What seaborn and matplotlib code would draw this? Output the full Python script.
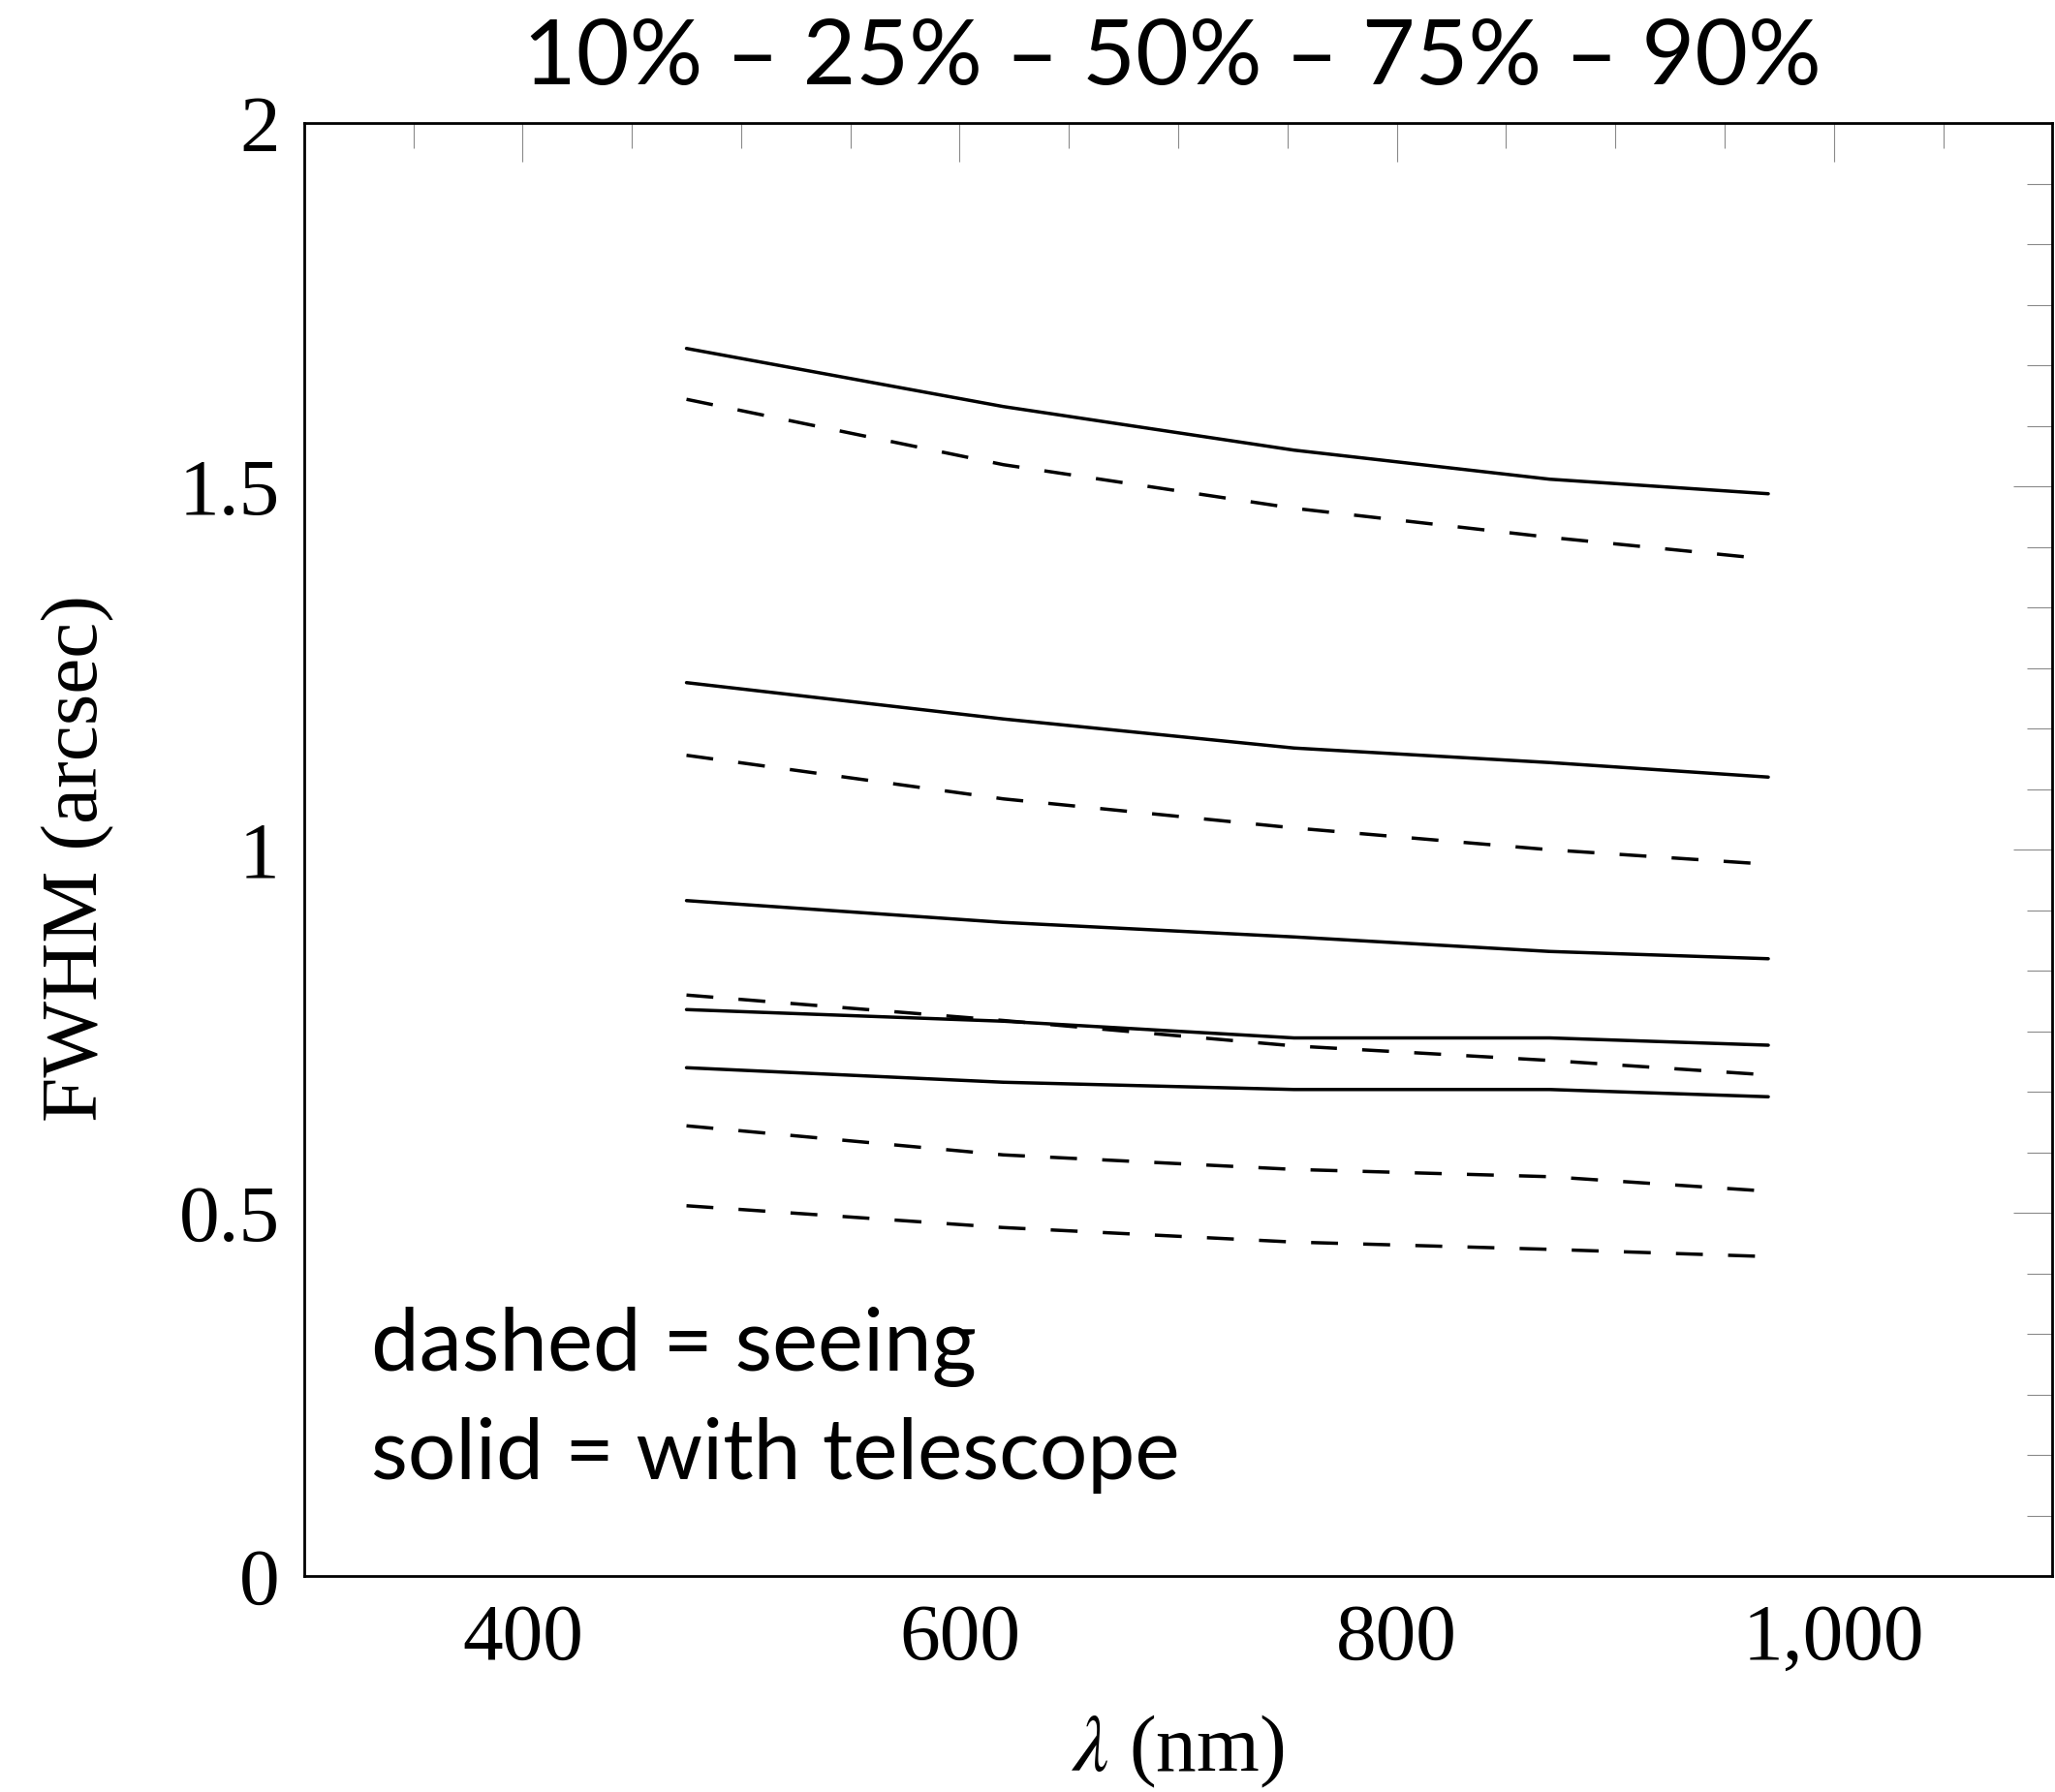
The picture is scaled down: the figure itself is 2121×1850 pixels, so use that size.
import numpy as np
import pandas as pd
import matplotlib
matplotlib.use("Agg")
import matplotlib.pyplot as plt
import seaborn as sns
from matplotlib.ticker import MultipleLocator, FixedLocator

# ---- data ----
wavelength = [475, 620, 753, 870, 970]
percentiles = ["10%", "25%", "50%", "75%", "90%"]
seeing = {
    "10%": [0.51, 0.48, 0.46, 0.45, 0.44],
    "25%": [0.62, 0.58, 0.56, 0.55, 0.53],
    "50%": [0.80, 0.765, 0.73, 0.71, 0.69],
    "75%": [1.13, 1.07, 1.03, 1.00, 0.98],
    "90%": [1.62, 1.53, 1.47, 1.43, 1.40],
}
telescope = {
    "10%": [0.70, 0.68, 0.67, 0.67, 0.66],
    "25%": [0.78, 0.764, 0.741, 0.741, 0.731],
    "50%": [0.93, 0.90, 0.88, 0.86, 0.85],
    "75%": [1.23, 1.18, 1.14, 1.12, 1.10],
    "90%": [1.69, 1.61, 1.55, 1.51, 1.49],
}
xticks_major = [400, 600, 800, 1000]
xtick_labels = ["400", "600", "800", "1,000"]
yticks_major = [0, 0.5, 1, 1.5, 2]
ytick_labels = ["0", "0.5", "1", "1.5", "2"]

rows = []
for p in percentiles:
    for w, v in zip(wavelength, seeing[p]):
        rows.append(dict(wavelength=w, fwhm=v, pct=p, kind="seeing"))
    for w, v in zip(wavelength, telescope[p]):
        rows.append(dict(wavelength=w, fwhm=v, pct=p, kind="telescope"))
df = pd.DataFrame(rows)

sns.set_theme(style="white")
plt.rcParams["font.family"] = ["Liberation Serif", "DejaVu Serif"]
plt.rcParams["mathtext.fontset"] = "stix"
plt.rcParams["text.color"] = "black"
plt.rcParams["axes.labelcolor"] = "black"

W, H = 2121, 1850
dpi = 100
fig = plt.figure(figsize=(W / dpi, H / dpi), dpi=dpi)
ax = fig.add_axes([313.8 / W, 1 - 1627.3 / H, 1804.5 / W, 1500.1 / H])

lw = 2.5
for (p, kind), sub in df.groupby(["pct", "kind"]):
    ls = (0, (8.0, 7.5)) if kind == "seeing" else "-"
    sns.lineplot(data=sub, x="wavelength", y="fwhm", ax=ax, color="black",
                 linewidth=lw, linestyle=ls, estimator=None, sort=False,
                 legend=False)

ax.set_xlim(300, 1100)
ax.set_ylim(0, 2)
ax.set_xticks(xticks_major)
ax.set_xticklabels(xtick_labels)
ax.xaxis.set_minor_locator(MultipleLocator(50))
ax.set_yticks(yticks_major)
ax.set_yticklabels(ytick_labels)
ax.yaxis.set_minor_locator(MultipleLocator(0.5 / 6))

ax.tick_params(axis="both", which="both", direction="in", top=True, right=True,
               color="#8a8a8a", width=0.8, labelcolor="black")
ax.tick_params(axis="both", which="major", length=29, labelsize=60)
ax.tick_params(axis="both", which="minor", length=19)
ax.tick_params(axis="x", which="major", pad=20)
ax.tick_params(axis="y", which="major", pad=18)
for s in ax.spines.values():
    s.set_color("black")
    s.set_linewidth(2.0)

ax.set_xlabel("")
ax.set_ylabel("")
fig.text(1215 / W, 1 - 1828 / H, r"$\lambda$ (nm)", ha="center", va="baseline",
         fontsize=60, color="black")
fig.text(81 / W, 1 - 886 / H, "FWHM (arcsec)", ha="center", va="center",
         rotation=90, fontsize=60, color="black")

sans = ["Lato", "DejaVu Sans"]
fig.text(1210 / W, 1 - 87 / H, "10% – 25% – 50% – 75% – 90%", ha="center",
         va="baseline", fontsize=68, family=sans, color="black")
ax.text(0.0383, 0.1415, "dashed = seeing", transform=ax.transAxes,
        ha="left", va="baseline", fontsize=64, family=sans, color="black")
ax.text(0.0383, 0.0669, "solid = with telescope", transform=ax.transAxes,
        ha="left", va="baseline", fontsize=63, family=sans, color="black")

fig.savefig("out.png", dpi=dpi)
